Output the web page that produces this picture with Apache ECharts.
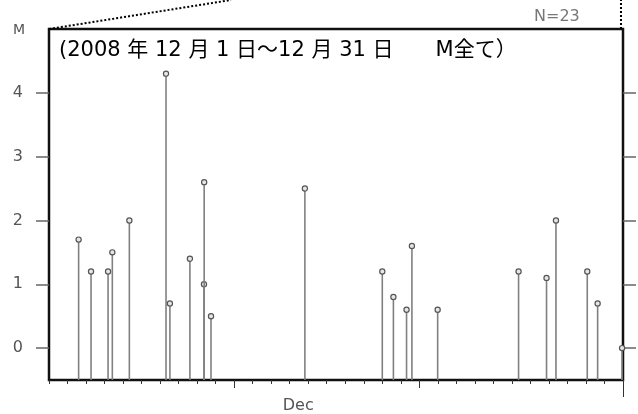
<!DOCTYPE html>
<html>
<head>
<meta charset="utf-8">
<script src="https://cdn.jsdelivr.net/npm/echarts@6/dist/echarts.min.js"></script>
<style>
  html, body { margin: 0; padding: 0; background: #fff; }
  #chart { width: 638px; height: 414px; }
</style>
</head>
<body>
<div id="chart"></div>
<script>
// Earthquakes of December 2008: time (day of month, Dec 1 00:00 = 1.0) and magnitude
const eventDay = [2.60, 3.27, 4.19, 4.42, 5.34, 7.32, 7.53, 8.61, 9.37, 9.38, 9.75, 14.82,
                  19.00, 19.60, 20.31, 20.60, 21.99, 26.36, 27.87, 28.38, 30.07, 30.63, 31.95];
const magnitude = [1.7, 1.2, 1.2, 1.5, 2.0, 4.3, 0.7, 1.4, 1.0, 2.6, 0.5, 2.5,
                   1.2, 0.8, 0.6, 1.6, 0.6, 1.2, 1.1, 2.0, 1.2, 0.7, 0.0];

// Axis ticks and labels
const magTicks = [0, 1, 2, 3, 4];
const dayStart = 1;      // Dec 1
const dayEnd = 32;       // Jan 1
const tenDayTicks = [11, 21];
const monthEndTick = [32];
const monthLabelPos = [14.46];
const monthLabel = 'Dec';
const magMin = -0.5;
const magMax = 5;

const titleText = '(2008 年 12 月 1 日～12 月 31 日　　M全て）';
const countText = 'N=' + magnitude.length;

const chart = echarts.init(document.getElementById('chart'), null, { renderer: 'canvas' });

const baseX = {
  type: 'value', min: dayStart, max: dayEnd, interval: 1,
  position: 'bottom', gridIndex: 0,
  axisLine: { show: false, onZero: false },
  splitLine: { show: false },
  axisLabel: { show: false }
};

const data = eventDay.map((d, i) => [d, magnitude[i]]);

chart.setOption({
  backgroundColor: '#fff',
  animation: false,
  grid: {
    left: 49, right: 15, top: 29, bottom: 34,
    show: true, borderColor: '#111', borderWidth: 2.5,
    backgroundColor: 'transparent',
    outerBoundsMode: 'none'
  },
  xAxis: [
    Object.assign({}, baseX, {
      axisTick: { show: true, length: 4, lineStyle: { color: '#333', width: 1 } }
    }),
    Object.assign({}, baseX, {
      axisTick: { show: true, length: 8, customValues: tenDayTicks, lineStyle: { color: '#333', width: 1 } },
      axisLabel: {
        show: true, customValues: monthLabelPos, formatter: () => monthLabel,
        margin: 18, fontSize: 16, color: '#555', fontFamily: 'DejaVu Sans'
      }
    }),
    Object.assign({}, baseX, {
      axisTick: { show: true, length: 17, customValues: monthEndTick, lineStyle: { color: '#333', width: 1 } }
    })
  ],
  yAxis: [
    {
      type: 'value', min: magMin, max: magMax, position: 'left',
      axisLine: { show: false, onZero: false }, splitLine: { show: false },
      axisTick: { show: true, length: 13, customValues: magTicks, lineStyle: { color: '#666', width: 1.5 } },
      axisLabel: {
        show: true, customValues: magTicks, margin: 26,
        fontSize: 16, color: '#555', fontFamily: 'DejaVu Sans'
      }
    },
    {
      type: 'value', min: magMin, max: magMax, position: 'right',
      axisLine: { show: false, onZero: false }, splitLine: { show: false },
      axisTick: { show: true, length: 13, customValues: magTicks, lineStyle: { color: '#666', width: 1.5 } },
      axisLabel: { show: false }
    }
  ],
  series: [{
    type: 'custom',
    xAxisIndex: 0, yAxisIndex: 0,
    clip: false,
    data: data,
    renderItem: function (params, api) {
      const x = api.value(0);
      const v = api.value(1);
      const top = api.coord([x, v]);
      const base = api.coord([x, magMin]);
      return {
        type: 'group',
        children: [
          { type: 'line', shape: { x1: top[0], y1: base[1], x2: top[0], y2: top[1] },
            style: { stroke: '#808080', lineWidth: 1.6 } },
          { type: 'circle', shape: { cx: top[0], cy: top[1], r: 2.6 },
            style: { fill: '#e6e6e6', stroke: '#555', lineWidth: 1.2 } }
        ]
      };
    }
  }],
  graphic: [
    // zoom connector lines from the overview plot above
    { type: 'line', shape: { x1: 49, y1: 29, x2: 231, y2: 0 },
      style: { stroke: '#000', lineWidth: 2, lineDash: [2, 2] }, z: 10 },
    { type: 'line', shape: { x1: 621, y1: 29, x2: 621, y2: 0 },
      style: { stroke: '#000', lineWidth: 2, lineDash: [2, 2] }, z: 10 },
    { type: 'text', left: 13, top: 23,
      style: { text: 'M', fontSize: 14, fill: '#555', fontFamily: 'DejaVu Sans' } },
    { type: 'text', left: 534, top: 9,
      style: { text: countText, fontSize: 16, fill: '#777', fontFamily: 'DejaVu Sans' } },
    { type: 'text', left: 59, top: 40,
      style: { text: titleText, fontSize: 21, fill: '#000',
               fontFamily: "'DejaVu Sans', 'Noto Sans CJK JP'" } }
  ]
});
</script>
</body>
</html>
